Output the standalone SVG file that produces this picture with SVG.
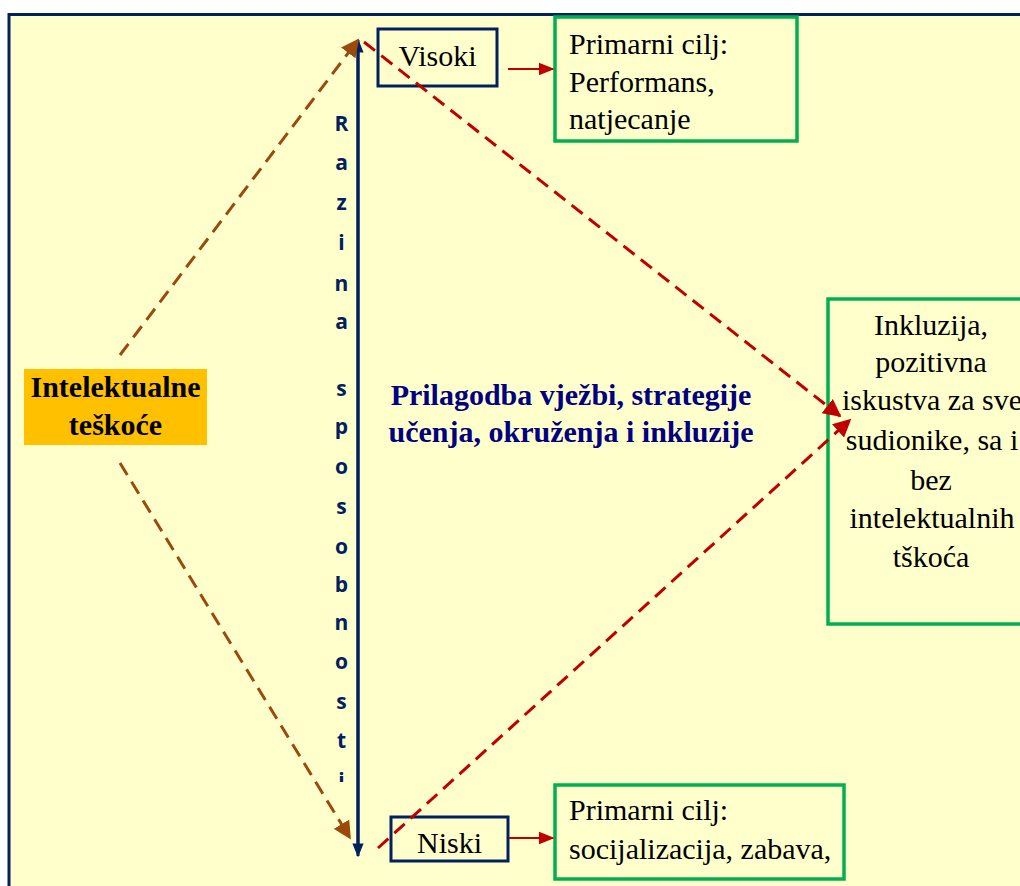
<svg xmlns="http://www.w3.org/2000/svg" width="1020" height="886" viewBox="0 0 1020 886">
<defs>
<style>
.serif{font-family:"Liberation Serif","Times New Roman",serif;}
.t{font-size:30px;fill:#000;}
.letter{font-family:"Open Sans","Liberation Sans",sans-serif;font-weight:bold;font-size:21px;fill:#002060;text-anchor:middle;}
.navybox{fill:#ffffcc;stroke:#002060;stroke-width:3;}
.greenbox{fill:#ffffcc;stroke:#00b050;stroke-width:3.5;}
.brown{stroke:#9c4a0c;stroke-width:3;stroke-dasharray:14,8;fill:none;}
.red{stroke:#c00000;stroke-width:3;stroke-dasharray:14,8;fill:none;}
</style>
<marker id="mRed" viewBox="0 0 10 10" refX="9" refY="5" markerWidth="18" markerHeight="18" markerUnits="userSpaceOnUse" orient="auto"><path d="M0,0 L10,5 L0,10 z" fill="#c00000"/></marker>
<marker id="mRedS" viewBox="0 0 10 10" refX="9" refY="5" markerWidth="16" markerHeight="16" markerUnits="userSpaceOnUse" orient="auto"><path d="M0,1 L10,5 L0,9 z" fill="#c00000"/></marker>
<marker id="mBr" viewBox="0 0 10 10" refX="9" refY="5" markerWidth="18" markerHeight="18" markerUnits="userSpaceOnUse" orient="auto"><path d="M0,0 L10,5 L0,10 z" fill="#9c4a0c"/></marker>
<marker id="mNavy" viewBox="0 0 10 10" refX="9" refY="5" markerWidth="14" markerHeight="14" markerUnits="userSpaceOnUse" orient="auto"><path d="M0,1 L10,5 L0,9 z" fill="#002060"/></marker>
<clipPath id="clipI"><rect x="320" y="700" width="40" height="82"/></clipPath>
</defs>
<rect x="0" y="0" width="1020" height="886" fill="#ffffff"/>
<rect id="frame" x="9" y="14.5" width="1030" height="890" fill="#ffffcc" stroke="#002060" stroke-width="3"/>

<g id="axis-label">
<text class="letter" x="341.5" y="131">R</text>
<text class="letter" x="341.5" y="170">a</text>
<text class="letter" x="341.5" y="210">z</text>
<text class="letter" x="341.5" y="250">i</text>
<text class="letter" x="341.5" y="291">n</text>
<text class="letter" x="341.5" y="329">a</text>
<text class="letter" x="341.5" y="396">s</text>
<text class="letter" x="341.5" y="434">p</text>
<text class="letter" x="341.5" y="474">o</text>
<text class="letter" x="341.5" y="514">s</text>
<text class="letter" x="341.5" y="554">o</text>
<text class="letter" x="341.5" y="592">b</text>
<text class="letter" x="341.5" y="630">n</text>
<text class="letter" x="341.5" y="669">o</text>
<text class="letter" x="341.5" y="709">s</text>
<text class="letter" x="341.5" y="748">t</text>
<text class="letter" x="341.5" y="788" clip-path="url(#clipI)">i</text>
</g>

<g id="node-visoki">
<rect class="navybox" x="378" y="29" width="119" height="57"/>
<text class="serif t" x="437.5" y="66" text-anchor="middle">Visoki</text>
</g>

<g id="node-niski">
<rect class="navybox" x="391" y="817" width="117" height="44"/>
<text class="serif t" x="449.5" y="853" text-anchor="middle">Niski</text>
</g>

<g id="node-performans">
<rect class="greenbox" x="555" y="17" width="242" height="124"/>
<text class="serif t" x="569" y="54">Primarni cilj:</text>
<text class="serif t" x="569" y="92">Performans,</text>
<text class="serif t" x="569" y="129">natjecanje</text>
</g>

<g id="node-socijalizacija">
<rect class="greenbox" x="555" y="785" width="289" height="94"/>
<text class="serif t" x="569" y="820">Primarni cilj:</text>
<text class="serif t" x="569" y="859">socijalizacija, zabava,</text>
</g>

<g id="node-intelektualne">
<rect x="24" y="369" width="183" height="76" fill="#ffc000"/>
<text class="serif" x="115.5" y="397" text-anchor="middle" font-size="30" font-weight="bold" fill="#000">Intelektualne</text>
<text class="serif" x="115.5" y="435" text-anchor="middle" font-size="30" font-weight="bold" fill="#000">teškoće</text>
</g>

<g id="node-prilagodba">
<text class="serif" x="571" y="405" text-anchor="middle" font-size="30" font-weight="bold" fill="#000080">Prilagodba vježbi, strategije</text>
<text class="serif" x="571" y="442" text-anchor="middle" font-size="30" font-weight="bold" fill="#000080">učenja, okruženja i inkluzije</text>
</g>

<g id="node-inkluzija">
<rect class="greenbox" x="828" y="299" width="210" height="325"/>
<text class="serif t" x="931" y="335" text-anchor="middle">Inkluzija,</text>
<text class="serif t" x="931" y="372" text-anchor="middle">pozitivna</text>
<text class="serif t" x="932" y="410" text-anchor="middle">iskustva za sve</text>
<text class="serif t" x="932" y="450" text-anchor="middle">sudionike, sa i</text>
<text class="serif t" x="931" y="490" text-anchor="middle">bez</text>
<text class="serif t" x="932" y="528" text-anchor="middle">intelektualnih</text>
<text class="serif t" x="931" y="567" text-anchor="middle">tškoća</text>
</g>

<g id="connectors">
<line x1="358" y1="848" x2="358" y2="40" stroke="#002060" stroke-width="3" marker-end="url(#mNavy)"/>
<line x1="358" y1="48" x2="358" y2="856" stroke="#002060" stroke-width="3" marker-end="url(#mNavy)"/>
<line class="brown" x1="120" y1="355" x2="358" y2="40" marker-end="url(#mBr)"/>
<line class="brown" x1="120" y1="463" x2="350" y2="838" marker-end="url(#mBr)"/>
<line class="red" x1="364" y1="42" x2="840" y2="416" marker-end="url(#mRed)"/>
<line class="red" x1="378" y1="848" x2="850" y2="420" marker-end="url(#mRed)"/>
<line x1="508" y1="69" x2="553" y2="69" stroke="#c00000" stroke-width="2" marker-end="url(#mRedS)"/>
<line x1="509" y1="838" x2="553" y2="838" stroke="#c00000" stroke-width="2" marker-end="url(#mRedS)"/>
</g>
</svg>
